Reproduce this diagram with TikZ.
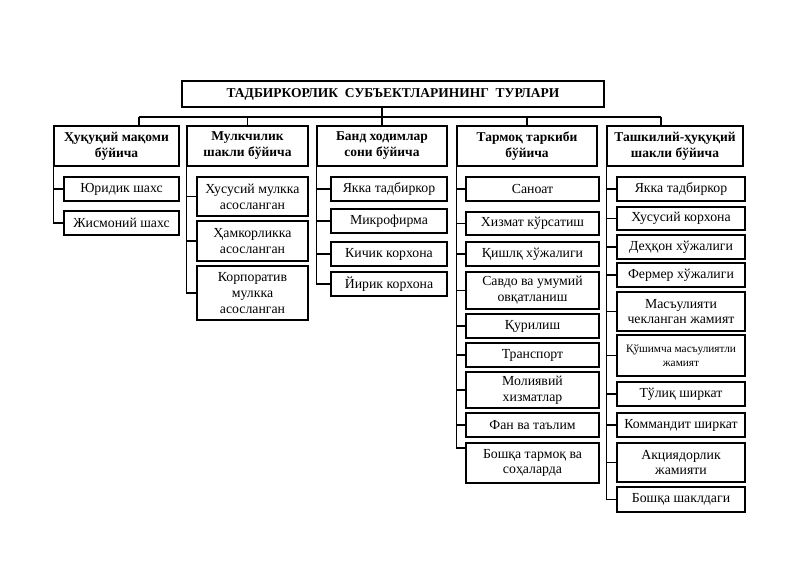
\documentclass[tikz,border=0pt]{standalone}
\usepackage{fontspec}
\setmainfont{Liberation Serif}
\usepackage{tikz}
\usetikzlibrary{positioning}

\begin{document}
\begin{tikzpicture}[x=1pt,y=-1pt]
\tikzstyle{box}=[draw=black,line width=1.4pt,align=center,inner sep=1pt,minimum height=24pt,font=\fontsize{13.8}{15.8}\selectfont]
\tikzstyle{cat}=[box,minimum height=40pt,font=\fontsize{13.5}{16}\selectfont\bfseries]
\tikzstyle{line}=[line width=1.1pt]
\useasboundingbox (0,0) rectangle (800,565);

\node[box,minimum width=422pt,minimum height=26pt,font=\fontsize{13.5}{15}\selectfont\bfseries] (T) at (393,94) {ТАДБИРКОРЛИК\ \ СУБЪЕКТЛАРИНИНГ\ \ ТУРЛАРИ};

\node[cat,minimum width=125pt] (K1) at (116.5,146) {Ҳуқуқий мақоми\\бўйича};
\node[cat,minimum width=121pt] (K2) at (247.5,146) {Мулкчилик\\шакли бўйича};
\node[cat,minimum width=130pt] (K3) at (382,146) {Банд ходимлар\\сони бўйича};
\node[cat,minimum width=140pt] (K4) at (527,146) {Тармоқ таркиби\\бўйича};
\node[cat,minimum width=136pt] (K5) at (675,146) {Ташкилий-ҳуқуқий\\шакли бўйича};

% huquqiy maqomi
\node[box,minimum width=115pt] (K1a) at (121.5,189) {Юридик шахс};
\node[box,minimum width=115pt] (K1b) at (121.5,223) {Жисмоний шахс};

% mulkchilik shakli
\node[box,minimum width=111pt,minimum height=39pt] (K2a) at (252.5,196.5) {Хусусий мулкка\\асосланган};
\node[box,minimum width=111pt,minimum height=40pt] (K2b) at (252.5,241) {Ҳамкорликка\\асосланган};
\node[box,minimum width=111pt,minimum height=54pt] (K2c) at (252.5,293) {Корпоратив\\мулкка\\асосланган};

% band xodimlar
\node[box,minimum width=116pt] (K3a) at (389,189) {Якка тадбиркор};
\node[box,minimum width=116pt] (K3b) at (389,221) {Микрофирма};
\node[box,minimum width=116pt] (K3c) at (389,254) {Кичик корхона};
\node[box,minimum width=116pt] (K3d) at (389,284) {Йирик корхона};

% tarmoq tarkibi
\node[box,minimum width=133pt] (K4a) at (532.5,189) {Саноат};
\node[box,minimum width=133pt,minimum height=23pt] (K4b) at (532.5,223.5) {Хизмат кўрсатиш};
\node[box,minimum width=133pt] (K4c) at (532.5,254) {Қишлқ хўжалиги};
\node[box,minimum width=133pt,minimum height=37pt] (K4d) at (532.5,290.5) {Савдо ва умумий\\овқатланиш};
\node[box,minimum width=133pt] (K4e) at (532.5,326) {Қурилиш};
\node[box,minimum width=133pt] (K4f) at (532.5,355) {Транспорт};
\node[box,minimum width=133pt,minimum height=36pt] (K4g) at (532.5,390) {Молиявий\\хизматлар};
\node[box,minimum width=133pt] (K4h) at (532.5,425) {Фан ва таълим};
\node[box,minimum width=133pt,minimum height=40pt] (K4i) at (532.5,463) {Бошқа тармоқ ва\\соҳаларда};

% tashkiliy-huquqiy shakli
\node[box,minimum width=128pt] (K5a) at (681,189) {Якка тадбиркор};
\node[box,minimum width=128pt,minimum height=23pt] (K5b) at (681,218.5) {Хусусий корхона};
\node[box,minimum width=128pt] (K5c) at (681,247) {Деҳқон хўжалиги};
\node[box,minimum width=128pt] (K5d) at (681,275) {Фермер хўжалиги};
\node[box,minimum width=128pt,minimum height=39pt] (K5e) at (681,311.5) {Масъулияти\\чекланган жамият};
\node[box,minimum width=128pt,minimum height=41pt,font=\fontsize{11.3}{13.5}\selectfont] (K5f) at (681,355.5) {Қўшимча масъулиятли\\жамият};
\node[box,minimum width=128pt] (K5g) at (681,394) {Тўлиқ ширкат};
\node[box,minimum width=128pt] (K5h) at (681,425) {Коммандит ширкат};
\node[box,minimum width=128pt,minimum height=39pt] (K5i) at (681,462.5) {Акциядорлик\\жамияти};
\node[box,minimum width=128pt,minimum height=25pt] (K5j) at (681,499.5) {Бошқа шаклдаги};

% top level connectors
\coordinate (L) at (139,117);
\coordinate (R) at (661,117);
\draw[line] (L) -- (R);
\draw[line] (T.south -| K3.north) -- (K3.north);
\draw[line] (L) -- (L |- K1.north);
\draw[line] (K2.north |- L) -- (K2.north);
\draw[line] (K4.north |- L) -- (K4.north);
\draw[line] (R) -- (R |- K5.north);

% trunks and stubs
\coordinate (E4) at ([yshift=15pt]K4i.west);
\draw[line] (K1.south west) -- (K1.south west |- K1b.west);
\draw[line] (K2.south west) -- (K2.south west |- K2c.west);
\draw[line] (K3.south west) -- (K3.south west |- K3d.west);
\draw[line] (K4.south west) -- (K4.south west |- E4);
\draw[line] (K5.south west) -- (K5.south west |- K5j.west);
\foreach \n in {K1a,K1b} \draw[line] (K1.south west |- \n.west) -- (\n.west);
\foreach \n in {K2a,K2b,K2c} \draw[line] (K2.south west |- \n.west) -- (\n.west);
\foreach \n in {K3a,K3b,K3c,K3d} \draw[line] (K3.south west |- \n.west) -- (\n.west);
\foreach \n in {K4a,K4b,K4c,K4d,K4e,K4f,K4g,K4h} \draw[line] (K4.south west |- \n.west) -- (\n.west);
\draw[line] (K4.south west |- E4) -- (E4);
\foreach \n in {K5a,K5b,K5c,K5d,K5e,K5f,K5g,K5h,K5i,K5j} \draw[line] (K5.south west |- \n.west) -- (\n.west);
\end{tikzpicture}
\end{document}
